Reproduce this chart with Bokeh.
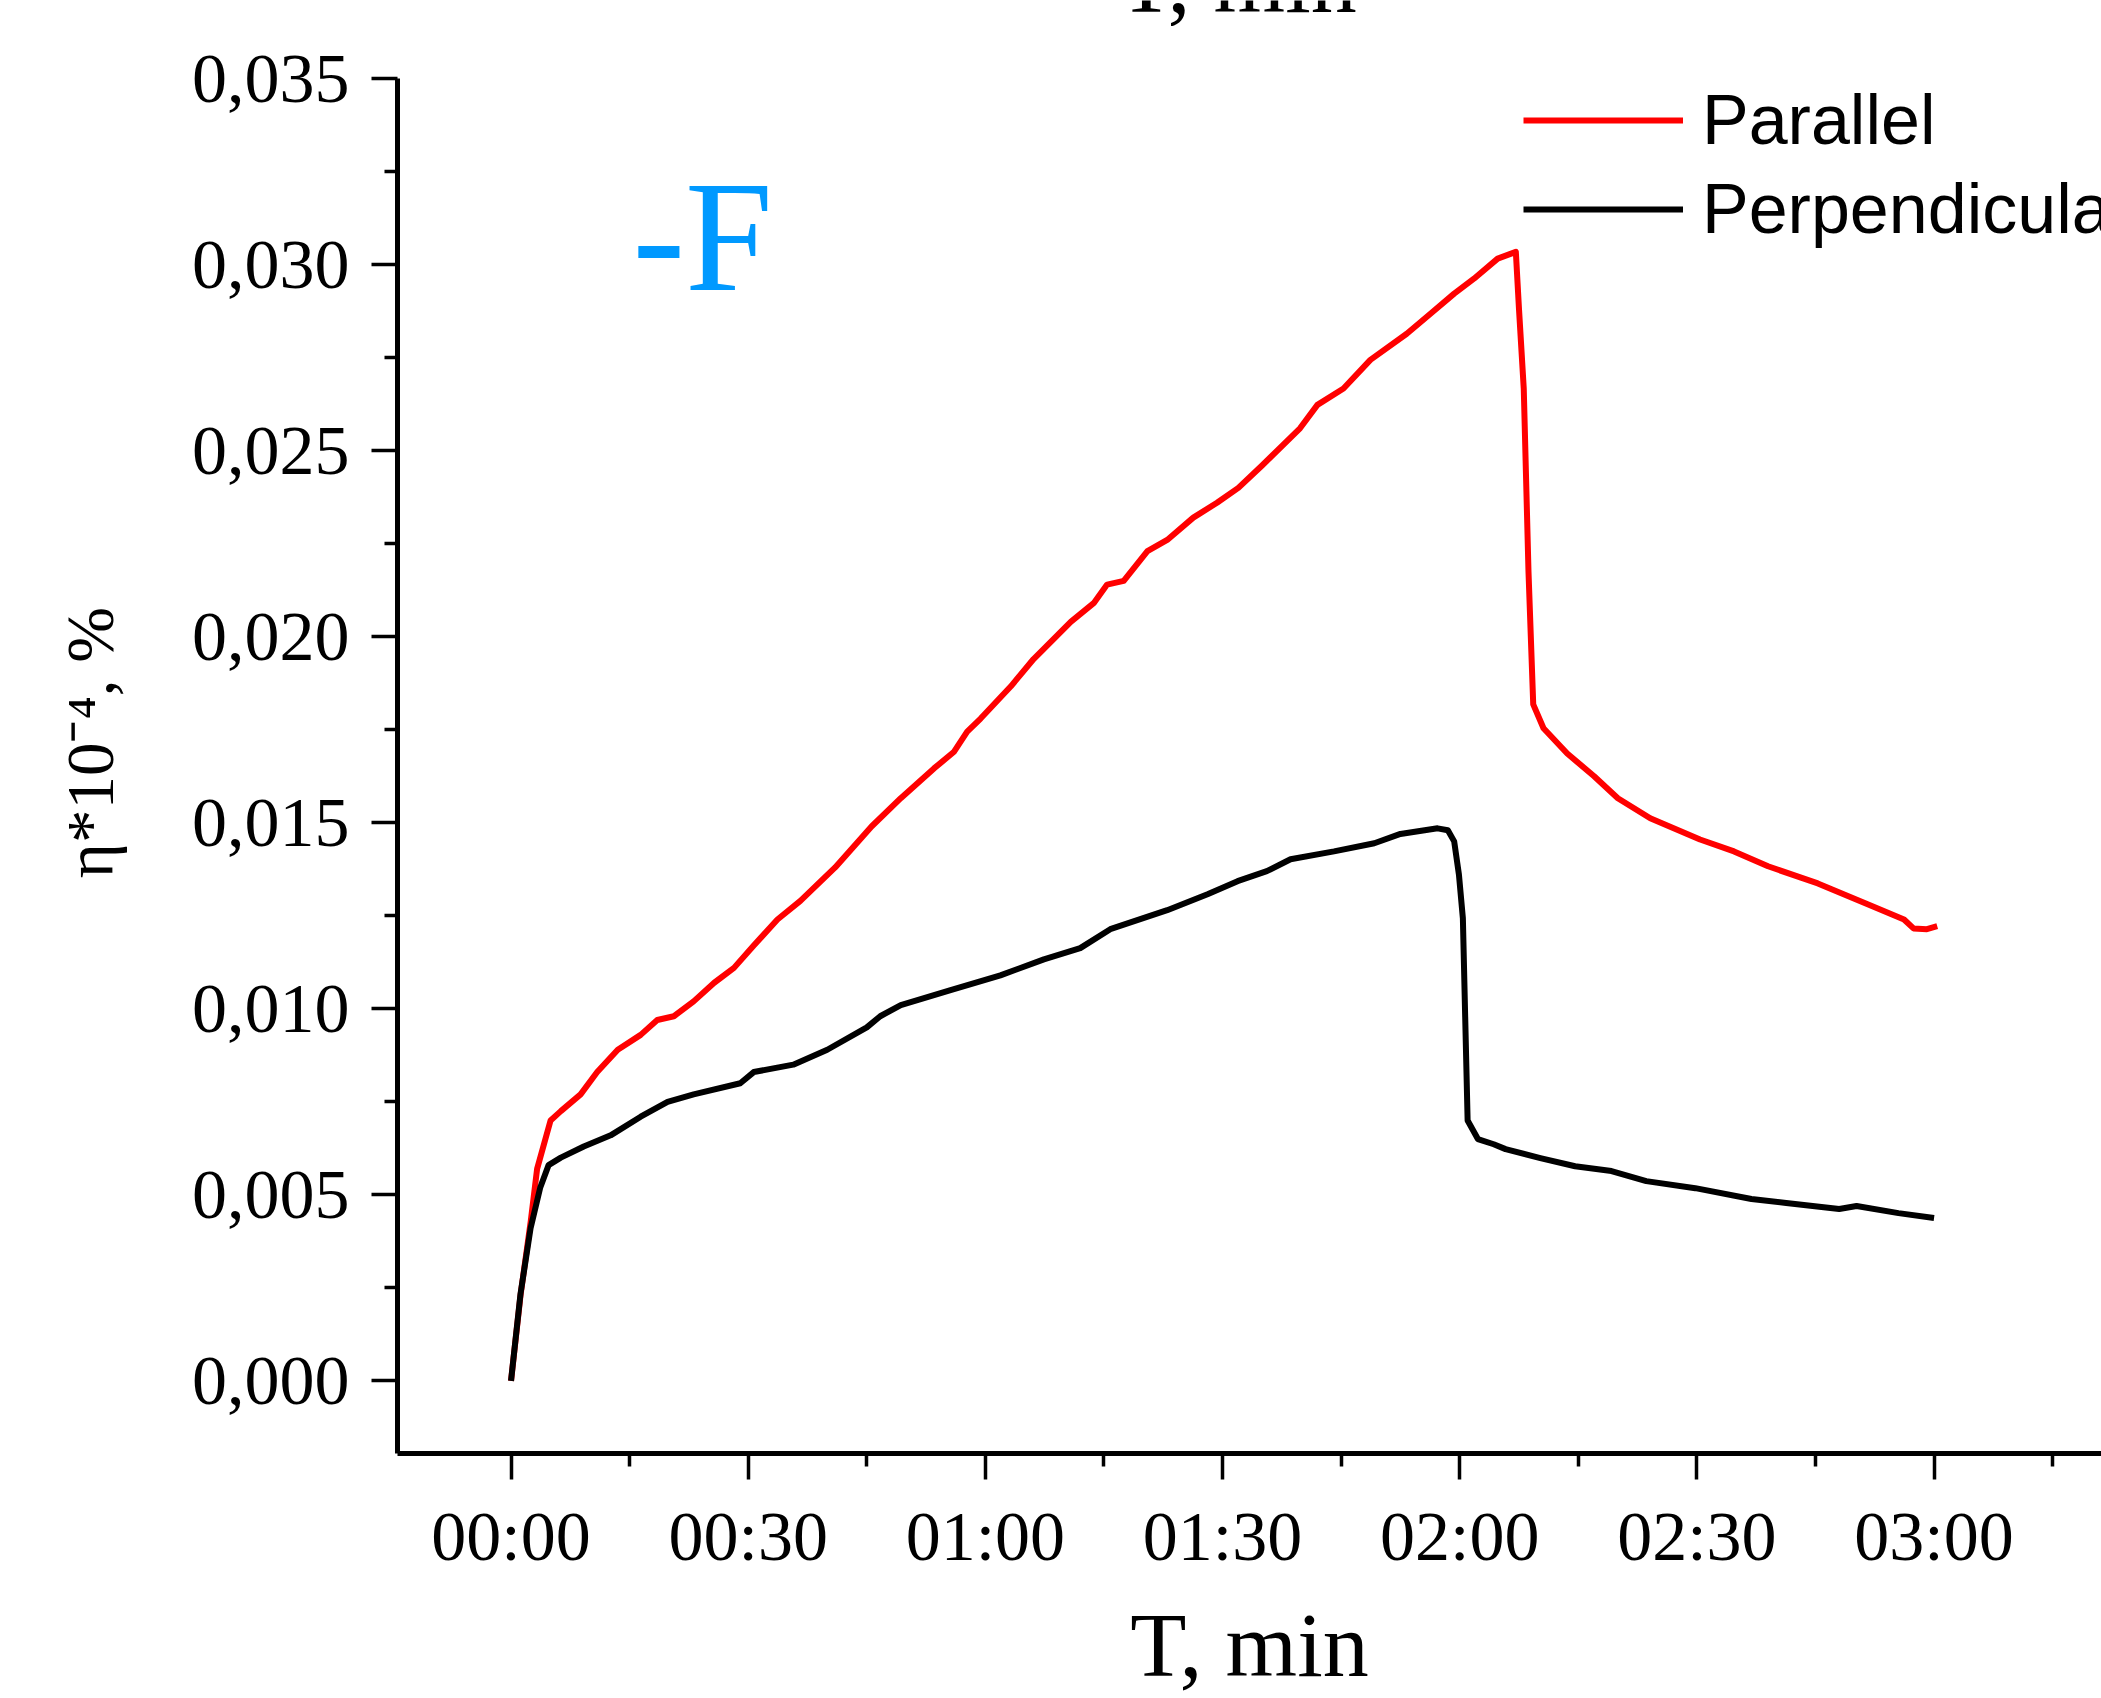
from bokeh.plotting import figure
from bokeh.layouts import column
from bokeh.models import Range1d, FixedTicker, Label, Legend, LegendItem
from bokeh.embed import file_html
from bokeh.resources import INLINE

# ---- data (time in seconds, value in η*10^-4 %) ----
par_t = [0, 1.2, 2.5, 3.3, 5.0, 6.3, 8.8, 10.9, 13.5, 16.4, 18.5, 20.6, 23.1, 25.7, 28.2,
         30.7, 33.7, 36.6, 41.0, 45.6, 49.3, 53.5, 56.0, 57.7, 59.4, 63.2, 66.1, 70.8,
         73.7, 75.4, 77.5, 80.5, 83.0, 86.3, 89.3, 92.0, 95.0, 99.8, 102.0, 105.3, 108.7,
         113.3, 116.3, 119.3, 121.8, 124.8, 127.1, 127.5, 128.1, 128.7, 129.3, 130.6,
         133.6, 137.0, 140.0, 144.1, 150.4, 154.7, 159.0, 165.3, 171.6, 176.2, 177.4,
         179.1, 180.4]
par_v = [0.0, 0.0023, 0.0043, 0.0057, 0.0070, 0.00725, 0.0077, 0.0083, 0.0089, 0.0093,
         0.0097, 0.0098, 0.0102, 0.0107, 0.0111, 0.0117, 0.0124, 0.0129, 0.0138, 0.0149,
         0.01566, 0.01646, 0.0169, 0.01745, 0.0178, 0.01866, 0.0194, 0.0204, 0.0209,
         0.0214, 0.0215, 0.0223, 0.0226, 0.0232, 0.0236, 0.0240, 0.0246, 0.0256, 0.02623,
         0.02667, 0.02744, 0.02814, 0.02868, 0.02922, 0.02962, 0.03016, 0.03034, 0.0288,
         0.02667, 0.02175, 0.01818, 0.01754, 0.01686, 0.01625, 0.01566, 0.01512, 0.01455,
         0.01423, 0.01383, 0.01337, 0.01281, 0.0124, 0.01216, 0.01214, 0.01222]

perp_t = [0, 1.2, 2.47, 3.7, 4.75, 6.3, 9.2, 12.6, 16.4, 19.8, 23.1, 29.0, 30.7, 35.7,
          40.0, 45.0, 46.7, 49.3, 55.6, 61.9, 67.4, 72.0, 75.8, 83.0, 88.1, 91.9, 95.6,
          98.6, 104.1, 109.2, 112.5, 117.2, 118.5, 119.3, 119.9, 120.4, 121.0, 122.3,
          124.3, 125.8, 130.2, 134.6, 139.2, 143.6, 149.8, 156.9, 161.3, 168.0, 170.2,
          175.5, 180.0]
perp_v = [0.0, 0.00234, 0.0041, 0.0052, 0.0058, 0.0060, 0.0063, 0.0066, 0.0071, 0.0075,
          0.0077, 0.0080, 0.0083, 0.0085, 0.0089, 0.0095, 0.0098, 0.0101, 0.0105, 0.0109,
          0.01133, 0.01163, 0.01214, 0.01265, 0.01308, 0.01343, 0.0137, 0.01402, 0.01423,
          0.01445, 0.0147, 0.01485, 0.0148, 0.0145, 0.01361, 0.01243, 0.0070, 0.0065,
          0.00636, 0.00623, 0.00599, 0.00577, 0.00564, 0.00537, 0.00518, 0.00489, 0.00478,
          0.00462, 0.0047, 0.00451, 0.00438]

series_names = ["Parallel", "Perpendicular"]
series_colors = ["#FF0000", "#000000"]

x_ticks = [0, 30, 60, 90, 120, 150, 180]
x_tick_labels = ["00:00", "00:30", "01:00", "01:30", "02:00", "02:30", "03:00"]
x_minor = [15, 45, 75, 105, 135, 165, 195]
y_ticks = [0.0, 0.005, 0.01, 0.015, 0.02, 0.025, 0.03, 0.035]
y_tick_labels = ["0,000", "0,005", "0,010", "0,015", "0,020", "0,025", "0,030", "0,035"]
y_minor = [0.0025, 0.0075, 0.0125, 0.0175, 0.0225, 0.0275, 0.0325]

x_title = "T, min"
y_title = "η*10⁻⁴, %"
panel_tag = "-F"

SERIF = "Liberation Serif"
SANS = "Liberation Sans"

# ---- strip with the cut-off axis title of the panel above ----
top = figure(width=2101, height=26, output_backend="svg", toolbar_location=None,
             x_axis_location=None, y_axis_location=None,
             min_border_left=0, min_border_right=0, min_border_top=0,
             min_border_bottom=0)
top.outline_line_color = None
top.grid.visible = False
top.add_layout(Label(x=840, y=46, x_units="screen", y_units="screen", text=x_title,
                     text_font=SERIF, text_font_size="92px", text_color="black",
                     text_baseline="alphabetic", text_align="center"))

# ---- main chart ----
p = figure(width=2101, height=1672, output_backend="svg", toolbar_location=None,
           x_range=Range1d(-14.36, 201.18), y_range=Range1d(-0.00195, 0.035),
           min_border_left=397, min_border_right=0, min_border_top=52,
           min_border_bottom=244)
p.outline_line_color = None
p.grid.visible = False
p.background_fill_color = "white"
p.border_fill_color = "white"

r1 = p.line(par_t, par_v, line_color=series_colors[0], line_width=6, line_join="round")
r2 = p.line(perp_t, perp_v, line_color=series_colors[1], line_width=6, line_join="round")

for ax in (p.xaxis[0], p.yaxis[0]):
    ax.axis_line_width = 5
    ax.axis_line_color = "black"
    ax.major_tick_line_width = 3.5
    ax.minor_tick_line_width = 3.5
    ax.major_tick_in = 0
    ax.major_tick_out = 26
    ax.minor_tick_in = 0
    ax.minor_tick_out = 13
    ax.major_label_text_font = SERIF
    ax.major_label_text_font_size = "70px"
    ax.major_label_text_color = "black"
    ax.axis_label_text_font = SERIF
    ax.axis_label_text_font_style = "normal"
    ax.axis_label_text_color = "black"

xa = p.xaxis[0]
xa.ticker = FixedTicker(ticks=x_ticks, minor_ticks=x_minor)
xa.major_label_overrides = dict(zip(x_ticks, x_tick_labels))
xa.major_label_standoff = 18
xa.axis_label = x_title
xa.axis_label_text_font_size = "92px"
xa.axis_label_standoff = 16

ya = p.yaxis[0]
ya.ticker = FixedTicker(ticks=y_ticks, minor_ticks=y_minor)
ya.major_label_overrides = dict(zip(y_ticks, y_tick_labels))
ya.major_label_standoff = 22
ya.axis_label = "\u2002\u2009" + y_title
ya.axis_label_text_font_size = "67px"
ya.axis_label_standoff = 62

# panel tag
p.add_layout(Label(x=235, y=1217, x_units="screen", y_units="screen", text=panel_tag,
                   text_font=SERIF, text_font_size="158px", text_color="#0099FF",
                   text_baseline="alphabetic", text_align="left"))

legend = Legend(items=[LegendItem(label=series_names[0], renderers=[r1]),
                       LegendItem(label=series_names[1], renderers=[r2])],
                location=(1126, 1204), orientation="vertical",
                label_text_font=SANS, label_text_font_size="70px",
                label_text_color="black",
                glyph_width=160, glyph_height=80, label_height=80, spacing=9,
                padding=0, margin=0, border_line_color=None,
                background_fill_alpha=0, label_standoff=19)
p.add_layout(legend)

layout = column(top, p, spacing=0)
open("out.html", "w").write(file_html(layout, INLINE))
